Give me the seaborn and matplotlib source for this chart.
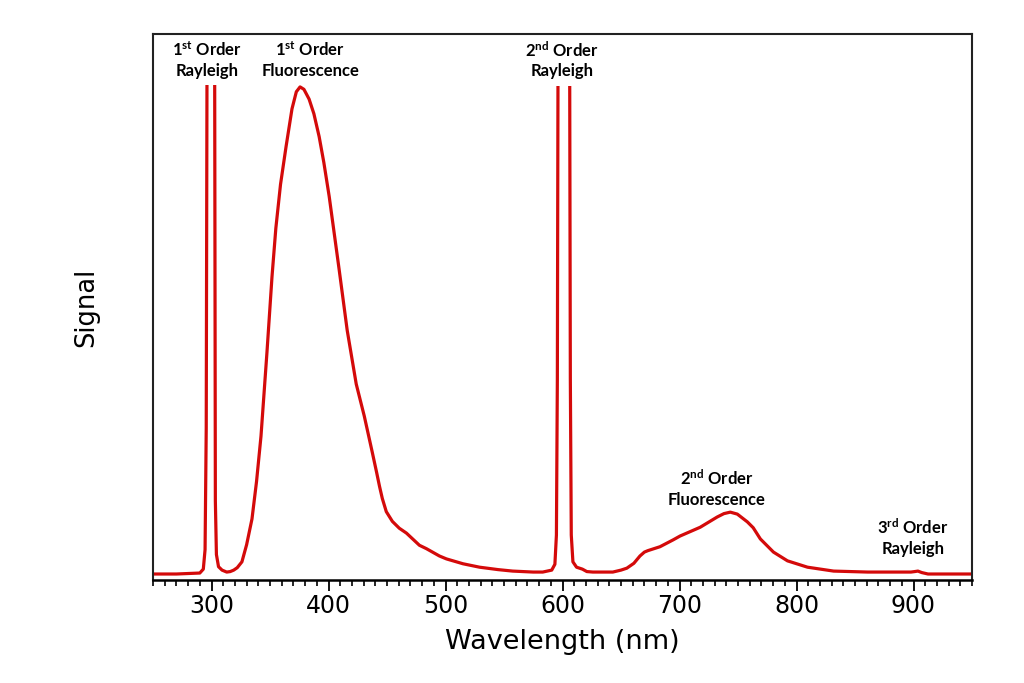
import matplotlib
matplotlib.use("Agg")
import matplotlib.pyplot as plt
from matplotlib.ticker import MultipleLocator, NullLocator
import seaborn as sns
import pandas as pd

# ---------------- data ----------------
wavelength = [250, 270, 290, 293, 294.5, 295.5, 296.3, 296.8, 302.0, 302.6, 303.3, 304.2,
              306, 309, 313, 316, 319, 322, 326, 330, 334.6, 338.5, 342.3, 347.4, 351.7,
              355, 359, 363.7, 368.8, 372.5, 375.7, 379, 383.4, 387.5, 392, 396, 400.6,
              409.1, 416, 423.7, 430.6, 437.4, 441, 443.6, 446, 449.4, 454.6, 460.5, 466.6,
              477.7, 483.7, 494.8, 500.8, 515, 529.1, 545, 557.4, 575, 583.1, 590.8, 593.5,
              594.8, 595.6, 596.3, 606.0, 606.7, 607.5, 608.9, 612, 617, 620.8, 626, 643,
              650, 655, 661, 666.2, 670, 673, 683.3, 694.5, 700.5, 717.7, 732.2, 738, 743.4,
              749.4, 758, 763, 769.1, 780.3, 792.3, 809.4, 831.7, 860.9, 897.8, 901, 903.8,
              907, 912.4, 950]
signal = [0.0, 0.0, 0.002, 0.01, 0.05, 0.3, 1.2, 1.2, 1.2, 1.2, 0.15, 0.04,
          0.015, 0.008, 0.004, 0.005, 0.008, 0.013, 0.025, 0.06, 0.113, 0.19, 0.283, 0.455, 0.61,
          0.71, 0.8, 0.877, 0.955, 0.99, 1.0, 0.995, 0.975, 0.945, 0.898, 0.845, 0.775,
          0.625, 0.5, 0.39, 0.324, 0.25, 0.21, 0.18, 0.155, 0.128, 0.108, 0.094, 0.084,
          0.059, 0.052, 0.037, 0.031, 0.021, 0.014, 0.009, 0.006, 0.004, 0.004, 0.008, 0.02,
          0.08, 0.4, 1.2, 1.2, 0.4, 0.08, 0.025, 0.014, 0.01, 0.005, 0.004, 0.004,
          0.008, 0.012, 0.022, 0.037, 0.045, 0.048, 0.056, 0.07, 0.078, 0.096, 0.117, 0.124, 0.127,
          0.123, 0.107, 0.095, 0.072, 0.045, 0.027, 0.014, 0.006, 0.004, 0.004, 0.005, 0.006,
          0.003, 0.0, 0.0]

label_texts = [r"1$^{\mathrm{st}}$ Order" + "\nRayleigh",
               r"1$^{\mathrm{st}}$ Order" + "\nFluorescence",
               r"2$^{\mathrm{nd}}$ Order" + "\nRayleigh",
               r"2$^{\mathrm{nd}}$ Order" + "\nFluorescence",
               r"3$^{\mathrm{rd}}$ Order" + "\nRayleigh"]
label_x = [296.1, 384.3, 599.4, 731.6, 899.3]
label_y = [1.096, 1.096, 1.096, 0.217, 0.115]
label_pad = [4.5, 4.5, 4.5, 1.0, 1.0]

x_ticks_major = [300, 400, 500, 600, 700, 800, 900]

df = pd.DataFrame({"Wavelength": wavelength, "Signal": signal})

# ---------------- style ----------------
sns.set_style("white")
plt.rcParams["font.family"] = ["DejaVu Sans"]
plt.rcParams["text.color"] = "black"
plt.rcParams["axes.labelcolor"] = "black"
plt.rcParams["xtick.color"] = "black"
plt.rcParams["xtick.labelcolor"] = "black"
plt.rcParams["mathtext.fontset"] = "custom"
plt.rcParams["mathtext.rm"] = "Lato:bold"
plt.rcParams["mathtext.default"] = "rm"

fig = plt.figure(figsize=(10.24, 6.83), dpi=100)
ax = fig.add_axes([153 / 1024, 1 - 580 / 683, (972 - 153) / 1024, (580 - 34) / 683])

sns.lineplot(data=df, x="Wavelength", y="Signal", ax=ax, color="#d40a0a",
             linewidth=2.3, sort=False)

ax.set_xlim(250, 950)
ax.set_ylim(-0.0123, 1.1086)

ax.set_xticks(x_ticks_major)
ax.xaxis.set_minor_locator(MultipleLocator(10))
ax.yaxis.set_major_locator(NullLocator())
ax.tick_params(axis="x", which="major", direction="out", length=8, width=1.3,
               color="black", labelsize=17, pad=2, bottom=True, top=False)
ax.tick_params(axis="x", which="minor", direction="out", length=4.5, width=1.2,
               color="black", bottom=True, top=False)

for side in ["left", "top", "right"]:
    ax.spines[side].set_color("#222222")
    ax.spines[side].set_linewidth(1.5)
ax.spines["bottom"].set_color("black")
ax.spines["bottom"].set_linewidth(1.8)

ax.set_xlabel("Wavelength (nm)", fontsize=19.5, color="black")
ax.set_ylabel("Signal", fontsize=18.5, color="black")
ax.xaxis.set_label_coords(0.5, -0.09)
ax.yaxis.set_label_coords(-0.066, 0.5)

for t, x, y, p in zip(label_texts, label_x, label_y, label_pad):
    ax.text(x, y, t, ha="center", va="top", fontsize=12, family="Lato",
            fontweight="bold", linespacing=1.3, zorder=2.2, color="black",
            bbox=dict(facecolor="white", edgecolor="none", pad=p))

fig.savefig("out.png", dpi=100)
